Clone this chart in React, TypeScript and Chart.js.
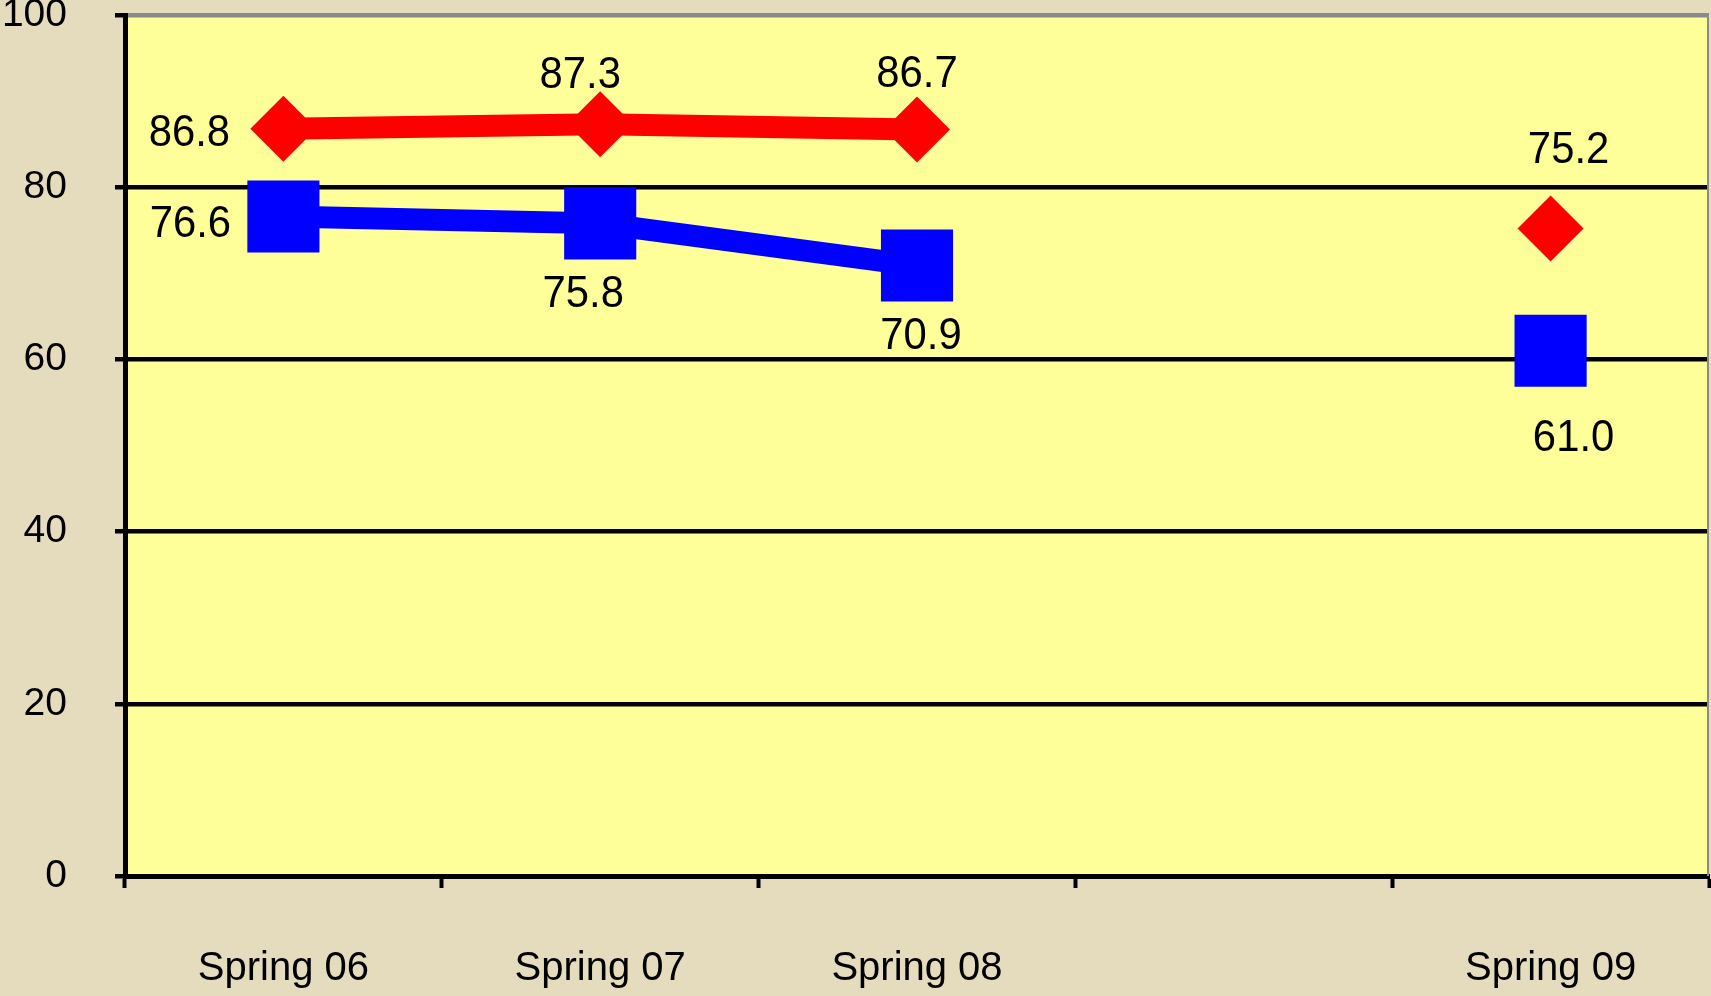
import React, { useEffect, useRef } from 'react';
import { Chart, registerables, LineController } from 'chart.js';

Chart.register(...registerables);
// keep large point markers from enlarging the layout padding
(LineController.prototype as any).getMaxOverflow = function () {
  return 0;
};

const categories = ['Spring 06', 'Spring 07', 'Spring 08', '', 'Spring 09'];
const redValues: (number | null)[] = [86.8, 87.3, 86.7, null, 75.2];
const blueValues: (number | null)[] = [76.6, 75.8, 70.9, null, 61.0];
const yTickValues = [0, 20, 40, 60, 80, 100];

// label offsets (pixels) relative to each point, per dataset
const redLabelOffsets = [[-94, 5], [-20, -49], [0, -55], null, [18, -78]];
const blueLabelOffsets = [[-93, 8], [-17, 71], [4, 71], null, [23, 88]];

const FONT = '"Liberation Sans", Arial, Helvetica, sans-serif';

const plotBackground = {
  id: 'plotBackground',
  beforeDraw(chart: any) {
    const { ctx, chartArea } = chart;
    ctx.save();
    ctx.fillStyle = '#FFFF99';
    ctx.fillRect(chartArea.left, chartArea.top, chartArea.right - chartArea.left, chartArea.bottom - chartArea.top);
    ctx.restore();
  },
  afterDraw(chart: any) {
    const { ctx, chartArea } = chart;
    ctx.save();
    ctx.strokeStyle = '#8a8a8a';
    ctx.lineWidth = 2;
    ctx.beginPath();
    ctx.moveTo(chartArea.right - 1, chartArea.top);
    ctx.lineTo(chartArea.right - 1, chartArea.bottom);
    ctx.stroke();
    ctx.restore();
  },
};

const valueLabels = {
  id: 'valueLabels',
  afterDatasetsDraw(chart: any) {
    const { ctx } = chart;
    const offsets = [redLabelOffsets, blueLabelOffsets];
    ctx.save();
    ctx.font = `45px ${FONT}`;
    ctx.fillStyle = '#000';
    ctx.textAlign = 'center';
    ctx.textBaseline = 'middle';
    chart.data.datasets.forEach((ds: any, di: number) => {
      const meta = chart.getDatasetMeta(di);
      meta.data.forEach((pt: any, i: number) => {
        const v = ds.data[i];
        const off = offsets[di][i];
        if (v == null || !off) return;
        ctx.save();
        ctx.translate(pt.x + off[0], pt.y + off[1]);
        ctx.scale(0.93, 1);
        ctx.fillText(v.toFixed(1), 0, 0);
        ctx.restore();
      });
    });
    ctx.restore();
  },
};

export default function App() {
  const canvasRef = useRef<HTMLCanvasElement>(null);

  useEffect(() => {
    document.body.style.margin = '0';
    const canvas = canvasRef.current;
    if (!canvas) return;
    const chart = new Chart(canvas, {
      type: 'line',
      data: {
        labels: categories,
        datasets: [
          {
            label: 'Red',
            data: redValues,
            borderColor: '#FF0000',
            backgroundColor: '#FF0000',
            borderWidth: 22,
            pointStyle: 'rectRot',
            pointRadius: 33,
            pointBorderWidth: 0,
            pointBackgroundColor: '#FF0000',
            spanGaps: false,
            tension: 0,
            clip: false,
          },
          {
            label: 'Blue',
            data: blueValues,
            borderColor: '#0000FF',
            backgroundColor: '#0000FF',
            borderWidth: 22,
            pointStyle: 'rect',
            pointRadius: 51,
            pointBorderWidth: 0,
            pointBackgroundColor: '#0000FF',
            spanGaps: false,
            tension: 0,
            clip: false,
          },
        ],
      },
      options: {
        animation: false,
        responsive: false,
        maintainAspectRatio: false,
        layout: { padding: { top: 15, right: 2, left: 0, bottom: 0 } },
        plugins: {
          legend: { display: false },
          tooltip: { enabled: false },
          title: { display: false },
        },
        scales: {
          x: {
            type: 'category',
            offset: true,
            grid: {
              offset: true,
              drawOnChartArea: false,
              drawTicks: true,
              tickLength: 12,
              tickWidth: 4,
              tickColor: '#000',
              color: '#000',
            },
            border: { display: true, color: '#000', width: 5 },
            ticks: {
              color: '#000',
              font: { family: FONT, size: 40 },
              padding: 57,
              maxRotation: 0,
              autoSkip: false,
            },
            afterFit(scale: any) {
              scale.height = 120;
            },
          },
          y: {
            min: 0,
            max: 100,
            afterBuildTicks(scale: any) {
              scale.ticks = yTickValues.map((v) => ({ value: v }));
            },
            grid: {
              color: (c: any) => (c.tick && c.tick.value === 100 ? '#8a8a8a' : '#000'),
              lineWidth: 4.5,
              drawTicks: true,
              tickLength: 10,
              tickWidth: 4.5,
              tickColor: '#000',
            },
            border: { display: true, color: '#000', width: 5 },
            ticks: {
              color: '#000',
              font: { family: FONT, size: 39 },
              padding: 48,
            },
            afterFit(scale: any) {
              scale.width = 125;
              scale.paddingTop = 0;
              scale.paddingBottom = 0;
            },
          },
        },
      },
      plugins: [plotBackground, valueLabels],
    });
    return () => chart.destroy();
  }, []);

  return (
    <div style={{ width: 1711, height: 996, background: '#E4DCBD', position: 'relative' }}>
      <canvas ref={canvasRef} width={1711} height={996} style={{ display: 'block' }} />
    </div>
  );
}
